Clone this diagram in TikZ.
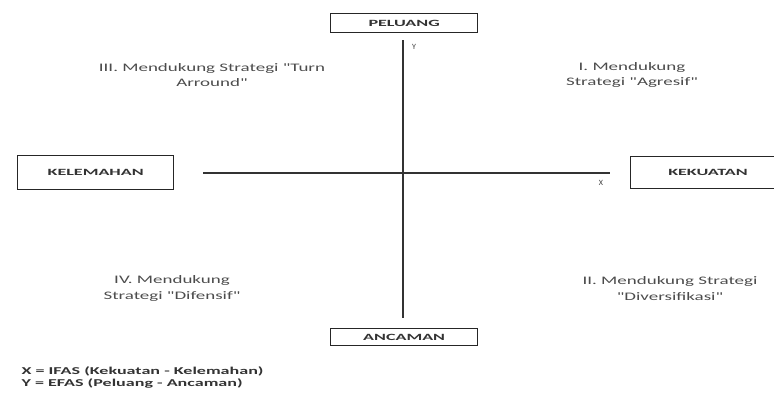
\documentclass[tikz,border=0pt]{standalone}
\usepackage{fontspec}
\setmainfont{Carlito}
\newfontfamily\quadfont[FakeStretch=1.65]{Carlito}
\newfontfamily\boxfont[FakeStretch=1.9]{Carlito Bold}
\newfontfamily\legendfont[FakeStretch=1.72]{Carlito Bold}
\begin{document}
\begin{tikzpicture}[x=1pt,y=-1pt,
  labelbox/.style={draw=black!85,line width=1.3pt,inner sep=0pt,anchor=north west},
  boxtext/.style={font=\boxfont\fontsize{9.5}{10}\selectfont,text=black!80},
  quad/.style={align=center,font=\quadfont\fontsize{11.5}{15.5}\selectfont,text=black!70},
  axis/.style={draw=black!80,line width=1.6pt},
  axlabel/.style={font=\fontsize{8}{9}\selectfont,text=black!75},
  legend/.style={align=left,anchor=west,font=\legendfont\fontsize{10.5}{11.7}\selectfont,text=black!80}]
\useasboundingbox (0,0) rectangle (774,394);
\begin{scope}
\clip (0,0) rectangle (774,394);
% labelled boxes on the four sides
\node[labelbox,minimum width=147pt,minimum height=19pt] (peluang) at (330,13) {};
\node[boxtext] (tpeluang) at (peluang.center) {PELUANG};
\node[labelbox,minimum width=147pt,minimum height=17pt] (ancaman) at (330,328) {};
\node[boxtext] (tancaman) at (ancaman.center) {ANCAMAN};
\node[labelbox,minimum width=156pt,minimum height=34pt] (kelemahan) at (17,155) {};
\node[boxtext] (tkelemahan) at (kelemahan.center) {KELEMAHAN};
\node[labelbox,minimum width=156pt,minimum height=32pt] (kekuatan) at (630,156) {};
\node[boxtext] (tkekuatan) at (708,172) {KEKUATAN};
\end{scope}
% axes
\coordinate (ytop) at (403,40);
\coordinate (ybot) at (403,318);
\coordinate (xleft) at (203,173);
\coordinate (xright) at (610,173);
\draw[axis] (ytop) -- (ybot);
\draw[axis] (xleft) -- (xright);
\node[axlabel] (ylab) at (414,47) {Y};
\node[axlabel] (xlab) at (601,183) {X};
% quadrant captions
\node[quad] (q3) at (212,75) {III. Mendukung Strategi "Turn\\Arround"};
\node[quad] (q1) at (632,75) {I. Mendukung\\Strategi "Agresif"};
\node[quad] (q4) at (172,288.5) {IV. Mendukung\\Strategi "Difensif"};
\node[quad] (q2) at (670,288.5) {II. Mendukung Strategi\\"Diversifikasi"};
% legend
\node[legend] (leg) at (18,377.5) {X = IFAS (Kekuatan - Kelemahan)\\Y = EFAS (Peluang - Ancaman)};
\end{tikzpicture}
\end{document}
